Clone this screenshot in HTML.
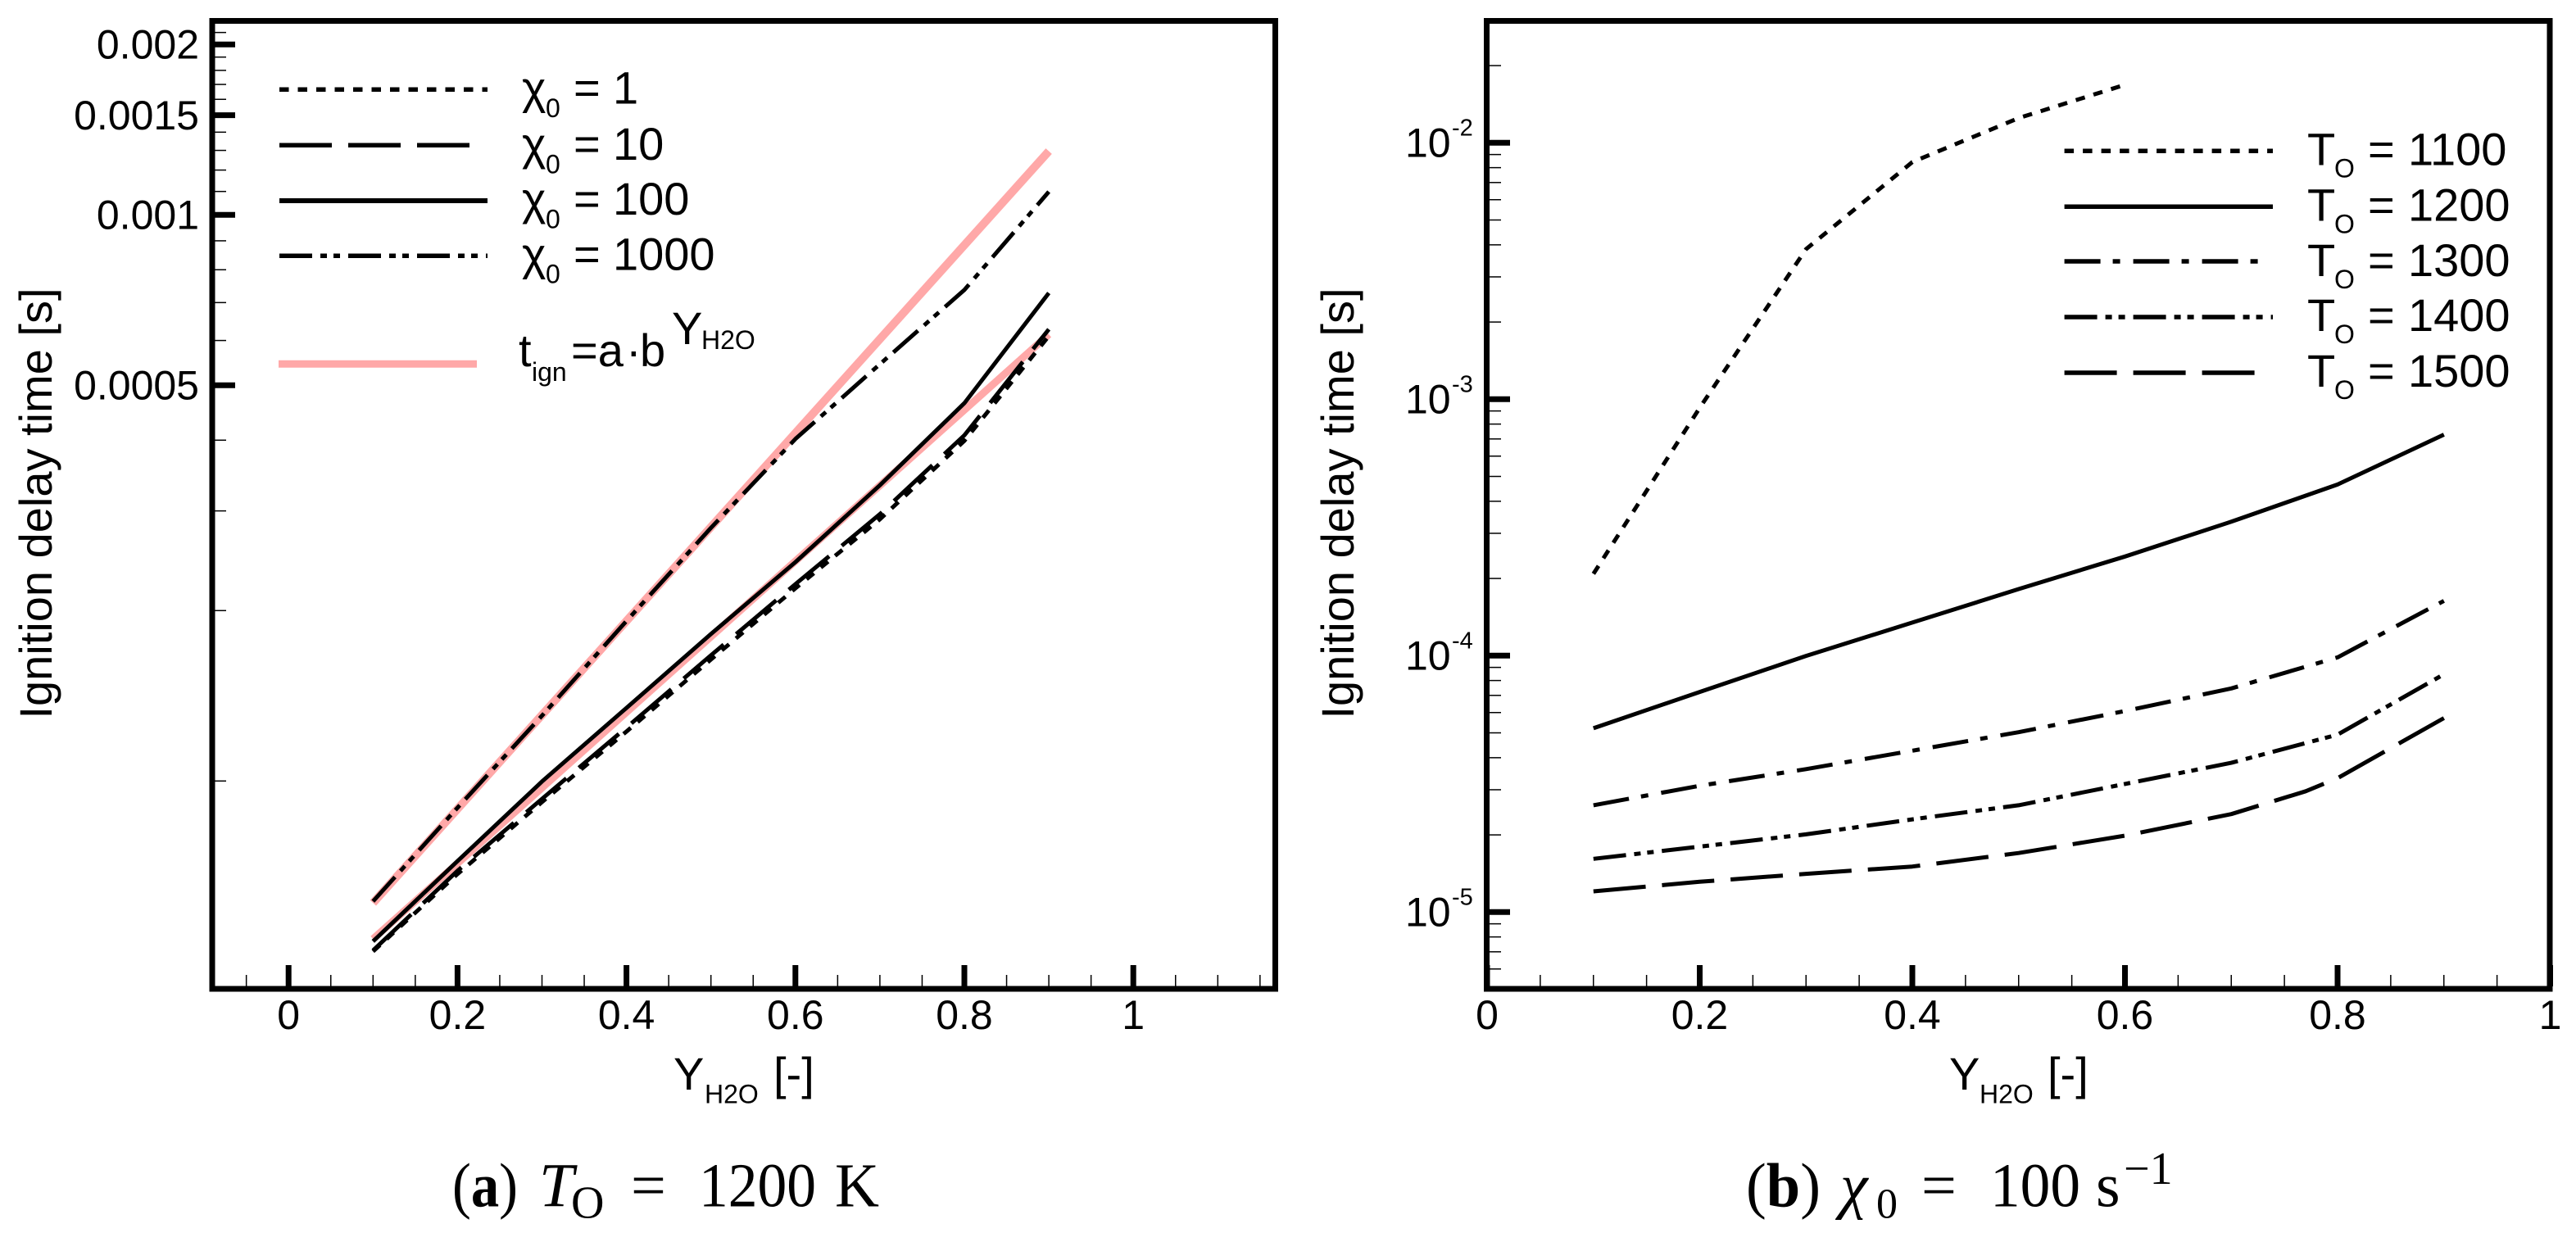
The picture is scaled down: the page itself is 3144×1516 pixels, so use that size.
<!DOCTYPE html>
<html lang="en">
<head>
<meta charset="utf-8">
<title>Ignition delay time charts</title>
<style>
html,body{margin:0;padding:0;background:#fff;width:3144px;height:1516px;overflow:hidden}
svg{display:block}
text{font-family:"Liberation Sans",sans-serif;fill:#000}
.s50{font-size:50px}
.s56{font-size:56px}
.s32{font-size:32px}
.s29{font-size:29px}
.cap{font-family:"Liberation Serif",serif;font-size:76px}
</style>
</head>
<body>
<svg id="fig" xmlns="http://www.w3.org/2000/svg" width="3144" height="1516" viewBox="0 0 3144 1516">
  <rect x="0" y="0" width="3144" height="1516" fill="#fff"/>
  <g id="panelA"></g>
  <g id="panelB"></g>

  <rect x="259" y="25.5" width="1297.5" height="1181.5" fill="none" stroke="#000" stroke-width="7"/>
  <rect x="1814.5" y="25.5" width="1297.5" height="1181.5" fill="none" stroke="#000" stroke-width="7"/>

  <text class="s56" transform="translate(63,614.5) rotate(-90)" text-anchor="middle">Ignition delay time [s]</text>
  <text class="s56" transform="translate(1652,614.5) rotate(-90)" text-anchor="middle">Ignition delay time [s]</text>

  <g>
    <text class="s56" x="822" y="1330">Y</text>
    <text class="s32" x="860" y="1346.7">H2O</text>
    <text class="s56" x="944" y="1330">[-]</text>
  </g>
  <g>
    <text class="s56" x="2379" y="1330">Y</text>
    <text class="s32" x="2416" y="1346.7">H2O</text>
    <text class="s56" x="2499" y="1330">[-]</text>
  </g>

  <g>
    <g><text class="s56" x="637" y="126.7">χ</text><text class="s32" x="666" y="143">0</text><text class="s56" x="700" y="126.7">=</text><text class="s56" x="748" y="126.7">1</text></g>
    <g><text class="s56" x="637" y="195">χ</text><text class="s32" x="666" y="211.3">0</text><text class="s56" x="700" y="195">=</text><text class="s56" x="748" y="195">10</text></g>
    <g><text class="s56" x="637" y="262">χ</text><text class="s32" x="666" y="278.3">0</text><text class="s56" x="700" y="262">=</text><text class="s56" x="748" y="262">100</text></g>
    <g><text class="s56" x="637" y="329.3">χ</text><text class="s32" x="666" y="345.6">0</text><text class="s56" x="700" y="329.3">=</text><text class="s56" x="748" y="329.3">1000</text></g>
    <g><text class="s56" x="633" y="447">t</text><text class="s32" x="649" y="465">ign</text><text class="s56" x="697" y="447">=a</text><text class="s56" x="764" y="447">·</text><text class="s56" x="781" y="447">b</text><text class="s56" x="820" y="420">Y</text><text class="s32" x="856" y="426">H2O</text></g>
  </g>

  <g>
    <g><text class="s56" x="2816" y="201.7">T</text><text class="s32" x="2849" y="216.7">O</text><text class="s56" x="2890" y="201.7">=</text><text class="s56" x="2939" y="201.7">1100</text></g>
    <g><text class="s56" x="2816" y="269.5">T</text><text class="s32" x="2849" y="284.5">O</text><text class="s56" x="2890" y="269.5">=</text><text class="s56" x="2939" y="269.5">1200</text></g>
    <g><text class="s56" x="2816" y="337">T</text><text class="s32" x="2849" y="352">O</text><text class="s56" x="2890" y="337">=</text><text class="s56" x="2939" y="337">1300</text></g>
    <g><text class="s56" x="2816" y="404">T</text><text class="s32" x="2849" y="419">O</text><text class="s56" x="2890" y="404">=</text><text class="s56" x="2939" y="404">1400</text></g>
    <g><text class="s56" x="2816" y="472">T</text><text class="s32" x="2849" y="487">O</text><text class="s56" x="2890" y="472">=</text><text class="s56" x="2939" y="472">1500</text></g>
  </g>

  <g>
    <text class="cap" x="552" y="1472.7" textLength="80" lengthAdjust="spacingAndGlyphs">(<tspan font-weight="bold">a</tspan>)</text>
    <text class="cap" x="658" y="1472.7" font-style="italic">T</text>
    <text class="cap" x="697" y="1486.7" style="font-size:56px">O</text>
    <text class="cap" x="770" y="1472.7">=</text>
    <text class="cap" x="853" y="1472.7" textLength="143" lengthAdjust="spacingAndGlyphs">1200</text>
    <text class="cap" x="1019" y="1472.7" textLength="54" lengthAdjust="spacingAndGlyphs">K</text>
  </g>
  <g>
    <text class="cap" x="2131" y="1472.7" textLength="91" lengthAdjust="spacingAndGlyphs">(<tspan font-weight="bold">b</tspan>)</text>
    <text class="cap" x="2246" y="1472.7" font-style="italic">χ</text>
    <text class="cap" x="2290" y="1486.7" style="font-size:52px">0</text>
    <text class="cap" x="2345" y="1472.7">=</text>
    <text class="cap" x="2429" y="1472.7" textLength="110" lengthAdjust="spacingAndGlyphs">100</text>
    <text class="cap" x="2558" y="1472.7">s</text>
    <text class="cap" x="2592" y="1445" style="font-size:56px">−1</text>
  </g>
</svg>
<script>
// Panel (a): T_O = 1200 K
const yh2oA = [0.1, 0.2, 0.3, 0.4, 0.5, 0.6, 0.7, 0.8, 0.9];
const chi1 = [5.00e-5, 6.85e-5, 9.18e-5, 1.223e-4, 1.639e-4, 2.19e-4, 2.90e-4, 3.99e-4, 6.11e-4];
const chi10 = [5.02e-5, 6.94e-5, 9.30e-5, 1.243e-4, 1.667e-4, 2.227e-4, 2.96e-4, 4.08e-4, 6.28e-4];
const chi100 = [5.21e-5, 7.22e-5, 9.98e-5, 1.346e-4, 1.818e-4, 2.436e-4, 3.33e-4, 4.65e-4, 7.28e-4];
const chi1000 = [6.13e-5, 8.97e-5, 1.304e-4, 1.917e-4, 2.80e-4, 4.02e-4, 5.45e-4, 7.37e-4, 1.099e-3];
const fitYh2o = [0.1, 0.9];
const fitUpper = [6.09e-5, 1.296e-3];
const fitLower = [5.26e-5, 6.15e-4];
const xTicksMajorA = [0, 0.2, 0.4, 0.6, 0.8, 1];
const xTickLabelsA = ['0', '0.2', '0.4', '0.6', '0.8', '1'];
const xTicksMinorA = [-0.05, 0.05, 0.1, 0.15, 0.25, 0.3, 0.35, 0.45, 0.5, 0.55, 0.65, 0.7, 0.75, 0.85, 0.9, 0.95, 1.05, 1.1, 1.15];
const yTicksMajorA = [0.002, 0.0015, 0.001, 0.0005];
const yTickLabelsA = ['0.002', '0.0015', '0.001', '0.0005'];
const yTicksMinorA = [0.0001, 0.0002, 0.0003, 0.0004, 0.0006, 0.0007, 0.0008, 0.0009, 0.0011, 0.0012, 0.0013, 0.0014, 0.0016, 0.0017, 0.0018, 0.0019, 0.0021];

// Panel (b): chi_0 = 100 1/s
const yh2oB = [0.1, 0.2, 0.3, 0.4, 0.5, 0.6, 0.7, 0.8, 0.9];
const yh2oT1100 = [0.1, 0.2, 0.3, 0.4, 0.5, 0.6];
const yh2oT1500 = [0.1, 0.2, 0.3, 0.4, 0.5, 0.6, 0.7, 0.77, 0.8, 0.9];
const t1100 = [2.086e-4, 9.26e-4, 3.85e-3, 8.41e-3, 0.01249, 0.01684];
const t1200 = [5.21e-5, 7.22e-5, 9.98e-5, 1.346e-4, 1.818e-4, 2.436e-4, 3.33e-4, 4.65e-4, 7.28e-4];
const t1300 = [2.61e-5, 3.11e-5, 3.61e-5, 4.26e-5, 5.03e-5, 6.08e-5, 7.45e-5, 9.85e-5, 1.636e-4];
const t1400 = [1.613e-5, 1.80e-5, 2.01e-5, 2.30e-5, 2.61e-5, 3.16e-5, 3.82e-5, 4.92e-5, 8.46e-5];
const t1500 = [1.205e-5, 1.313e-5, 1.41e-5, 1.505e-5, 1.70e-5, 1.986e-5, 2.41e-5, 2.96e-5, 3.33e-5, 5.71e-5];
const xTicksMajorB = [0, 0.2, 0.4, 0.6, 0.8, 1];
const xTickLabelsB = ['0', '0.2', '0.4', '0.6', '0.8', '1'];
const xTicksMinorB = [0.05, 0.1, 0.15, 0.25, 0.3, 0.35, 0.45, 0.5, 0.55, 0.65, 0.7, 0.75, 0.85, 0.9, 0.95];
const yTickExponentsB = [-2, -3, -4, -5];
const yMinorMantissas = [2, 3, 4, 5, 6, 7, 8, 9];
const yMinorDecades = [-6, -5, -4, -3, -2];

const SVGNS = 'http://www.w3.org/2000/svg';
const xA = v => 352.2 + 1031 * v;
const yA = v => 262.3 - 691 * Math.log10(v / 0.001);
const xB = v => 1815 + 1297.5 * v;
const yB = v => 174.3 - 313 * (Math.log10(v) + 2);

const dashDotted = '11.5 11';
const dashLong = '64 20';
const dashDotDot = '40 10 8 8 8 10';
const dashDot = '44 15 9 16';
const pink = '#ffa8a8';

function seg(parent, x1, y1, x2, y2, width, name, color, dash) {
  const el = document.createElementNS(SVGNS, 'line');
  el.setAttribute('x1', x1);
  el.setAttribute('y1', y1);
  el.setAttribute('x2', x2);
  el.setAttribute('y2', y2);
  el.setAttribute('stroke', color || '#000');
  el.setAttribute('stroke-width', width);
  if (dash) el.setAttribute('stroke-dasharray', dash);
  
  
  parent.appendChild(el);
}
function curve(parent, xs, ys, fx, fy, width, color, dash, name) {
  const el = document.createElementNS(SVGNS, 'polyline');
  el.setAttribute('points', xs.map((x, i) => fx(x).toFixed(1) + ',' + fy(ys[i]).toFixed(1)).join(' '));
  el.setAttribute('fill', 'none');
  el.setAttribute('stroke', color);
  el.setAttribute('stroke-width', width);
  el.setAttribute('stroke-linejoin', 'round');
  if (dash) el.setAttribute('stroke-dasharray', dash);
  
  
  parent.appendChild(el);
}
function label(parent, x, y, str, cls, anchor, name) {
  const el = document.createElementNS(SVGNS, 'text');
  el.setAttribute('x', x);
  el.setAttribute('y', y);
  el.setAttribute('class', cls);
  if (anchor) el.setAttribute('text-anchor', anchor);
  el.textContent = str;
  
  
  parent.appendChild(el);
}

const a = document.getElementById('panelA');
const b = document.getElementById('panelB');

// Panel (a) fit curves below, black series on top
curve(a, fitYh2o, fitUpper, xA, yA, 10, pink, null, 'fit-line-upper');
curve(a, fitYh2o, fitLower, xA, yA, 9, pink, null, 'fit-line-lower');
curve(a, yh2oA, chi1, xA, yA, 5, '#000', dashDotted, 'series-chi-1');
curve(a, yh2oA, chi10, xA, yA, 5, '#000', dashLong, 'series-chi-10');
curve(a, yh2oA, chi100, xA, yA, 5, '#000', null, 'series-chi-100');
curve(a, yh2oA, chi1000, xA, yA, 5, '#000', dashDotDot, 'series-chi-1000');

// Panel (a) ticks
xTicksMajorA.forEach((t, i) => {
  seg(a, xA(t), 1204, xA(t), 1178, 7, 'x-tick-major-a');
  label(a, xA(t), 1256, xTickLabelsA[i], 's50', 'middle', 'x-tick-label-a');
});
xTicksMinorA.forEach(t => seg(a, xA(t), 1204, xA(t), 1190, 1.5, 'x-tick-minor-a'));
yTicksMajorA.forEach((t, i) => {
  seg(a, 262, yA(t), 287, yA(t), 7, 'y-tick-major-a');
  label(a, 243, yA(t) + 17.3, yTickLabelsA[i], 's50', 'end', 'y-tick-label-a');
});
yTicksMinorA.forEach(t => seg(a, 262, yA(t), 276, yA(t), 1.5, 'y-tick-minor-a'));

// Panel (a) legend keys
seg(a, 341, 109.3, 595, 109.3, 5.5, 'legend-key-chi-1', '#000', dashDotted);
seg(a, 341, 177.3, 575, 177.3, 5.5, 'legend-key-chi-10', '#000', dashLong);
seg(a, 341, 245, 595, 245, 6, 'legend-key-chi-100', '#000');
seg(a, 341, 312.3, 595, 312.3, 5.5, 'legend-key-chi-1000', '#000', dashDotDot);
seg(a, 340, 444.3, 582, 444.3, 9, 'legend-key-fit', pink);

// Panel (b) curves
curve(b, yh2oT1100, t1100, xB, yB, 5, '#000', dashDotted, 'series-t-1100');
curve(b, yh2oB, t1200, xB, yB, 5, '#000', null, 'series-t-1200');
curve(b, yh2oB, t1300, xB, yB, 5, '#000', dashDot, 'series-t-1300');
curve(b, yh2oB, t1400, xB, yB, 5, '#000', dashDotDot, 'series-t-1400');
curve(b, yh2oT1500, t1500, xB, yB, 5, '#000', dashLong, 'series-t-1500');

// Panel (b) ticks
xTicksMajorB.forEach((t, i) => {
  seg(b, xB(t), 1204, xB(t), 1178, 7, 'x-tick-major-b');
  label(b, xB(t), 1256, xTickLabelsB[i], 's50', 'middle', 'x-tick-label-b');
});
xTicksMinorB.forEach(t => seg(b, xB(t), 1204, xB(t), 1190, 1.5, 'x-tick-minor-b'));
yTickExponentsB.forEach(e => {
  const v = Math.pow(10, e);
  seg(b, 1817, yB(v), 1843, yB(v), 7, 'y-tick-major-b');
  label(b, 1715, yB(v) + 17.4, '10', 's50', null, 'y-tick-label-b');
  label(b, 1772, yB(v) - 8.6, String(e), 's29', null, 'y-tick-exponent-b');
});
yMinorDecades.forEach(d => {
  yMinorMantissas.forEach(m => {
    const v = m * Math.pow(10, d);
    const py = yB(v);
    if (py > 30 && py < 1203) seg(b, 1817, py, 1832, py, 1.5, 'y-tick-minor-b');
  });
});

// Panel (b) legend keys
seg(b, 2519.6, 184.3, 2774, 184.3, 5.5, 'legend-key-t-1100', '#000', dashDotted);
seg(b, 2519.6, 252.3, 2774, 252.3, 5.5, 'legend-key-t-1200', '#000');
seg(b, 2519.6, 319, 2757, 319, 5.5, 'legend-key-t-1300', '#000', dashDot);
seg(b, 2519.6, 387, 2774, 387, 5.5, 'legend-key-t-1400', '#000', dashDotDot);
seg(b, 2519.6, 455, 2753, 455, 5.5, 'legend-key-t-1500', '#000', dashLong);
</script>
</body>
</html>
